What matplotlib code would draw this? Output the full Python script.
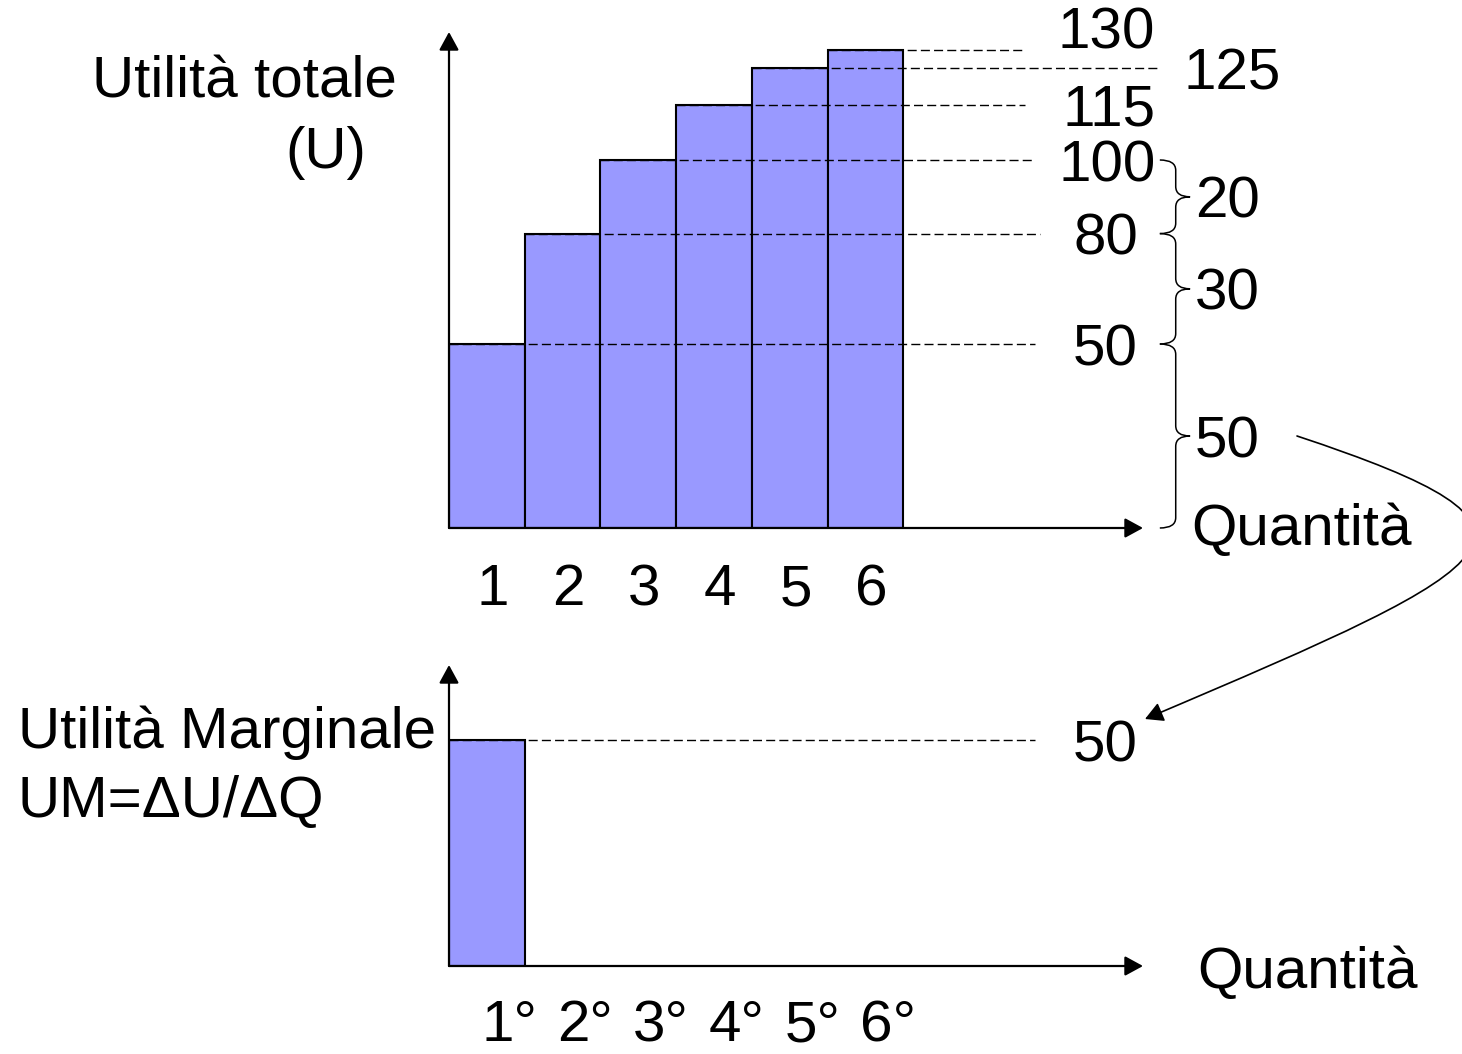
import matplotlib
matplotlib.use("Agg")
import matplotlib.pyplot as plt
from matplotlib.path import Path
from matplotlib.patches import PathPatch, FancyArrowPatch

plt.rcParams['font.family'] = ['Liberation Sans', 'DejaVu Sans']

# dati: utilità totale per quantità consumata
quantities = [1, 2, 3, 4, 5, 6]
total_utility = [50, 80, 100, 115, 125, 130]
marginal_utility = [50]
qty_labels = ["1", "2", "3", "4", "5", "6"]
ord_labels = ["1°", "2°", "3°", "4°", "5°", "6°"]

W, H = 1462, 1054
FS = 42
BAR_COLOR = '#9999ff'
UNIT_PX = 75.7  # larghezza di una barra in pixel

fig = plt.figure(figsize=(W / 100, H / 100), dpi=100)


def px_axes(left, top, right, bottom):
    return fig.add_axes([left / W, 1 - bottom / H, (right - left) / W, (bottom - top) / H])


def axis_arrows(ax, xtip, ytip):
    style = '-|>,head_length=0.55,head_width=0.3'
    kw = dict(arrowstyle=style, mutation_scale=20, lw=1.6, color='black',
              shrinkA=0, shrinkB=0)
    ax.annotate('', xy=(xtip, 0), xytext=(0, 0), arrowprops=kw, annotation_clip=False)
    ax.annotate('', xy=(0, ytip), xytext=(0, 0), arrowprops=kw, annotation_clip=False)


def brace(ax, y_lo, y_hi, xs, xl, xt, r):
    ym = (y_lo + y_hi) / 2
    verts = [(xl, y_hi), (xs, y_hi), (xs, y_hi - r), (xs, ym + r),
             (xs, ym), (xt, ym), (xs, ym), (xs, ym - r), (xs, y_lo + r),
             (xs, y_lo), (xl, y_lo)]
    codes = [Path.MOVETO, Path.CURVE3, Path.CURVE3, Path.LINETO,
             Path.CURVE3, Path.CURVE3, Path.CURVE3, Path.CURVE3, Path.LINETO,
             Path.CURVE3, Path.CURVE3]
    ax.add_patch(PathPatch(Path(verts, codes), fill=False, lw=1.1,
                           edgecolor='black', clip_on=False))


# --- grafico superiore: utilità totale ---
ax1 = px_axes(449, 32, W, 528)
y_px1 = 3.68  # pixel per unità di utilità
ax1.set_xlim(0, (W - 449) / UNIT_PX)
ax1.set_ylim(0, 496 / y_px1)
ax1.axis('off')

left_edges = [q - 1 for q in quantities]
ax1.bar(left_edges, total_utility, width=1, align='edge', color=BAR_COLOR,
        edgecolor='black', lw=1.5, zorder=2)

dash_end = [7.74, 7.81, 7.74, 7.61, 9.37, 7.57]
for x0, val, x1 in zip(left_edges, total_utility, dash_end):
    ax1.plot([x0, x1], [val, val], color='black', lw=1.0, dashes=(6.5, 3),
             zorder=3, clip_on=False)

# etichette dei valori sulla destra
base = 21 / y_px1
label_pos = [(9.10, 'right', 0), (9.10, 'right', 0), (9.33, 'right', 0),
             (9.33, 'right', 0), (9.70, 'left', 0), (9.33, 'right', 6)]
for val, (lx, ha, dy) in zip(total_utility, label_pos):
    ax1.text(lx, val - base + dy, str(val), fontsize=FS, ha=ha, va='baseline')

# parentesi graffe con gli incrementi
steps = [0] + total_utility[:3]
for lo, hi in zip(steps[:-1], steps[1:]):
    brace(ax1, lo, hi, xs=9.60, xl=9.39, xt=9.79, r=2.8)
    ax1.text(9.85, (lo + hi) / 2 - base, str(hi - lo), fontsize=FS,
             ha='left', va='baseline')

for q, lab in zip(quantities, qty_labels):
    ax1.text(q - 0.42, -77 / y_px1, lab, fontsize=FS, ha='center', va='baseline')

ax1.text(9.81, -17 / y_px1, "Quantità", fontsize=FS, ha='left', va='baseline')
axis_arrows(ax1, (1143 - 449) / UNIT_PX, 496 / y_px1)

# --- grafico inferiore: utilità marginale ---
ax2 = px_axes(449, 665, W, 966)
y_px2 = 226 / 50
ax2.set_xlim(0, (W - 449) / UNIT_PX)
ax2.set_ylim(0, 301 / y_px2)
ax2.axis('off')

ax2.bar([0], marginal_utility, width=1, align='edge', color=BAR_COLOR,
        edgecolor='black', lw=1.5, zorder=2)
ax2.plot([0, 7.74], [marginal_utility[0]] * 2, color='black', lw=1.0,
         dashes=(6.5, 3), zorder=3)
ax2.text(9.10, marginal_utility[0] - 21 / y_px2, str(marginal_utility[0]),
         fontsize=FS, ha='right', va='baseline')

for q, lab in zip(quantities, ord_labels):
    ax2.text(q - 0.2, -75 / y_px2, lab, fontsize=FS, ha='center', va='baseline')

ax2.text(9.88, -22 / y_px2, "Quantità", fontsize=FS, ha='left', va='baseline')
axis_arrows(ax2, (1143 - 449) / UNIT_PX, 301 / y_px2)

# titoli degli assi verticali
def fig_text(x, y, s):
    fig.text(x / W, 1 - y / H, s, fontsize=FS, ha='left', va='baseline')


fig_text(92, 97, "Utilità totale")
fig_text(285, 168, "(U)")
fig_text(18, 748, "Utilità Marginale")
fig_text(18, 817, "UM=ΔU/ΔQ")

# freccia curva dall'incremento 50 all'utilità marginale
curve = Path([(1297 / W, 1 - 436 / H), (1580 / W, 1 - 530 / H),
              (1520 / W, 1 - 560 / H), (1145 / W, 1 - 719 / H)],
             [Path.MOVETO, Path.CURVE4, Path.CURVE4, Path.CURVE4])
fig.patches.append(FancyArrowPatch(path=curve, transform=fig.transFigure,
                                   arrowstyle='-|>,head_length=0.55,head_width=0.3',
                                   mutation_scale=20, lw=1.2, color='black'))

fig.savefig("out.png", dpi=100, facecolor='white')
